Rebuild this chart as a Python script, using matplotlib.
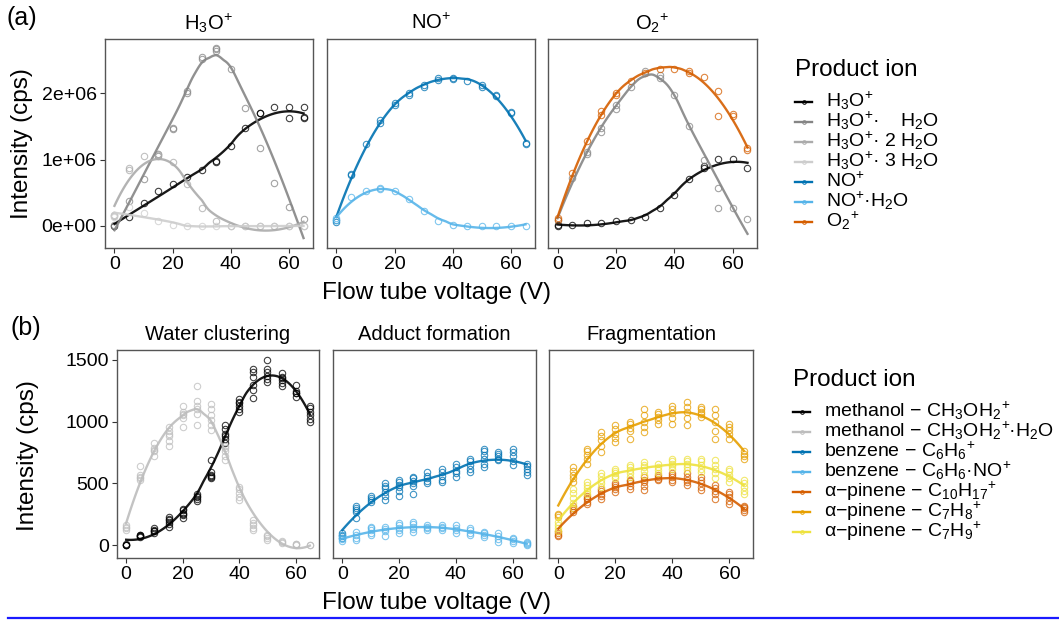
import numpy as np
import matplotlib
matplotlib.use("Agg")
import matplotlib.pyplot as plt
from matplotlib.lines import Line2D

plt.rcParams['font.family'] = ['Liberation Sans', 'DejaVu Sans']
plt.rcParams['mathtext.default'] = 'regular'

# ---------------- data ----------------
volts = [0, 5, 10, 15, 20, 25, 30, 35, 40, 45, 50, 55, 60, 65]

# (a) reagent ions, intensity in units of 1e6 cps, replicates per voltage
h3o_h3o = [[0.0], [0.14], [0.34], [0.52], [0.64], [0.74], [0.85], [0.98, 0.96], [1.20], [1.47],
           [1.70, 1.71], [1.79], [1.79, 1.62], [1.62, 1.64, 1.79]]
h3o_w1 = [[0.01], [0.37], [0.71], [1.09, 1.06], [1.46, 1.48], [2.03, 2.01], [2.55, 2.52],
          [2.68, 2.64, 2.66], [2.37], [1.78], [1.18], [0.65], [0.29], [0.11]]
h3o_w2 = [[0.17, 0.15], [0.85, 0.87], [1.05], [1.07, 1.09], [0.97], [0.64], [0.27], [0.08],
          [0.0], [0.0], [0.0], [0.0], [0.0], [0.0]]
h3o_w3 = [[0.17, 0.14], [0.28], [0.19], [0.08], [0.02], [0.0], [0.0], [0.0], [0.0], [0.0],
          [0.0], [0.0], [0.0], [0.0]]

no_no = [[0.09, 0.06], [0.77, 0.79], [1.23], [1.60, 1.55], [1.85, 1.83], [2.00, 1.98], [2.13, 2.10],
         [2.20, 2.23], [2.23, 2.22], [2.19], [2.13, 2.10], [1.98, 1.96], [1.72, 1.70], [1.25, 1.23]]
no_w1 = [[0.12, 0.09], [0.43], [0.53], [0.57, 0.56], [0.53], [0.41], [0.22], [0.08], [0.01],
         [0.0], [0.0], [0.0], [0.0], [0.0]]

o2_o2 = [[0.12, 0.09], [0.80], [1.28], [1.73, 1.68], [2.00, 1.98], [2.19], [2.31], [2.36], [2.37],
         [2.31, 2.34], [2.24], [2.03, 1.65], [1.69, 1.66], [1.17, 1.14]]
o2_w1 = [[0.09], [0.72], [1.11, 1.08], [1.47, 1.41], [1.82, 1.77], [2.10], [2.33], [2.27, 2.23],
         [1.98], [1.50], [1.00], [0.57, 0.27], [0.27], [0.11]]
o2_h3o = [[0.0, 0.02], [0.02], [0.04], [0.05], [0.07], [0.09], [0.14], [0.27], [0.47], [0.71],
          [0.91, 0.88], [1.01], [1.01], [0.87]]

# (b) product ions, cps
meth = [[0, 3, 5, 2], [65, 75, 80, 85, 70], [100, 115, 125, 135, 110], [150, 170, 190, 210, 230, 200],
        [220, 240, 260, 280, 295, 250], [360, 375, 390, 400, 415], [540, 555, 570, 590, 690, 560],
        [830, 860, 900, 940, 970, 880], [1075, 1100, 1130, 1160, 1180, 1150],
        [1190, 1260, 1300, 1360, 1400, 1425], [1320, 1345, 1370, 1400, 1430, 1500],
        [1290, 1310, 1335, 1360, 1390, 1350], [1200, 1230, 1250, 1300, 1230],
        [1000, 1020, 1050, 1080, 1110, 1130]]
meth_w = [[120, 135, 150, 160], [525, 545, 565, 640, 555], [725, 760, 790, 830, 770],
          [805, 840, 880, 920, 955, 900], [955, 1030, 1060, 1080, 1130, 1050],
          [970, 1060, 1100, 1130, 1170, 1290], [930, 970, 1010, 1050, 1100, 1140],
          [685, 720, 760, 790, 805], [365, 390, 420, 450, 470], [120, 140, 160, 180, 200],
          [40, 55, 70, 80], [15, 25, 30], [0, 5, 8], [0, 2]]
benz = [[55, 70, 85, 95], [215, 265, 285, 300, 320], [350, 365, 380, 400],
        [365, 400, 430, 460, 480, 500], [400, 440, 470, 490, 510, 525], [415, 480, 500, 520, 540, 550],
        [500, 520, 540, 560, 590], [510, 530, 560, 590, 620], [550, 580, 600, 630, 660],
        [590, 620, 650, 680, 700], [630, 660, 700, 730, 760, 775], [685, 700, 720, 740, 750],
        [645, 680, 720, 750, 775], [565, 590, 620, 640, 660]]
benz_no = [[30, 45, 60, 80], [40, 60, 80, 105], [80, 100, 120, 140, 150], [70, 110, 130, 150],
           [95, 120, 140, 160, 175], [105, 130, 150, 170, 190], [120, 135, 150, 160],
           [120, 135, 150, 160], [95, 120, 140, 160], [80, 100, 120, 140], [65, 80, 95, 105],
           [25, 50, 70, 95], [15, 30, 45, 55], [0, 10, 20, 25]]
pin_c10 = [[70, 85, 100, 110], [270, 285, 300, 320], [335, 350, 370, 385, 400],
           [375, 395, 415, 435, 455], [430, 450, 470, 485, 500], [455, 475, 500, 515, 525],
           [445, 480, 510, 530, 550], [525, 535, 550, 565], [510, 530, 550, 565, 580],
           [485, 510, 530, 555, 580], [445, 470, 500, 525, 550], [375, 410, 440, 465, 485],
           [335, 360, 390, 410, 430], [270, 285, 300, 310, 320]]
pin_c7h8 = [[230, 240, 250], [510, 540, 570, 600, 630], [660, 700, 730, 760, 780],
            [750, 800, 850, 880, 915], [835, 870, 900, 940, 970], [860, 920, 950, 980, 995],
            [915, 960, 1000, 1050, 1100], [980, 1010, 1040, 1060, 1075], [980, 1030, 1070, 1100, 1130],
            [970, 1030, 1080, 1120, 1155], [1035, 1060, 1080, 1100, 1115], [860, 920, 1000, 1050, 1100],
            [860, 900, 930, 960, 980], [700, 720, 740, 760]]
pin_c7h9 = [[110, 140, 165, 190], [300, 340, 380, 420, 455], [415, 440, 465, 490, 510],
            [470, 500, 530, 560, 580], [540, 560, 580, 600, 620], [550, 580, 610, 630, 645],
            [565, 600, 630, 650, 670], [580, 610, 630, 660], [620, 640, 660, 680, 700],
            [605, 630, 660, 680, 700], [590, 620, 650, 680, 700], [540, 580, 620, 650, 685],
            [510, 540, 570, 600, 620], [415, 440, 470, 500, 525]]

# colours
c_h3o, c_w1, c_w2, c_w3 = '#000000', '#858585', '#ababab', '#cdcdcd'
c_no, c_now = '#0072B2', '#56B4E9'
c_o2 = '#D55E00'
c_mw = '#bdbdbd'
c_c10, c_c7h8, c_c7h9 = '#D55E00', '#E69F00', '#EEE23E'

# (title, series, loess span)
panels_a = [
    (r'$H_3O^{\!+}$', [(h3o_h3o, c_h3o), (h3o_w1, c_w1), (h3o_w2, c_w2), (h3o_w3, c_w3)], 0.85),
    (r'$NO^{\!+}$', [(no_no, c_no), (no_w1, c_now)], 0.75),
    (r'${O_2}^{\!+}$', [(o2_h3o, c_h3o), (o2_w1, c_w1), (o2_o2, c_o2)], 0.75),
]
panels_b = [
    ('Water clustering', [(meth, '#000000'), (meth_w, c_mw)], 0.75),
    ('Adduct formation', [(benz, c_no), (benz_no, c_now)], 0.75),
    ('Fragmentation', [(pin_c10, c_c10), (pin_c7h8, c_c7h8), (pin_c7h9, c_c7h9)], 0.75),
]

legend_a = [(r'$H_3O^{\!+}$', c_h3o), (r'$H_3O^{\!+}\!·$    $H_2O$', c_w1),
            (r'$H_3O^{\!+}\!·$ 2 $H_2O$', c_w2), (r'$H_3O^{\!+}\!·$ 3 $H_2O$', c_w3),
            (r'$NO^{\!+}$', c_no), (r'$NO^{\!+}\!·H_2O$', c_now), (r'${O_2}^{\!+}$', c_o2)]
legend_b = [(r'methanol − $CH_3{OH_2}^{\!+}$', '#000000'),
            (r'methanol − $CH_3{OH_2}^{\!+}\!·H_2O$', c_mw),
            (r'benzene − $C_6{H_6}^{\!+}$', c_no),
            (r'benzene − $C_6H_6·NO^{\!+}$', c_now),
            (r'α−pinene − $C_{10}{H_{17}}^{\!+}$', c_c10),
            (r'α−pinene − $C_7{H_8}^{\!+}$', c_c7h8),
            (r'α−pinene − $C_7{H_9}^{\!+}$', c_c7h9)]


def loess(x, y, xs, span=0.75):
    x = np.asarray(x, float)
    y = np.asarray(y, float)
    n = len(x)
    q = min(int(np.floor(span * n)), n)
    out = []
    for x0 in xs:
        d = np.abs(x - x0)
        h = np.sort(d)[q - 1]
        w = np.clip(1 - (d / h) ** 3, 0, None) ** 3
        A = np.vstack([np.ones(n), x - x0, (x - x0) ** 2]).T
        sw = np.sqrt(w)
        coef = np.linalg.lstsq(A * sw[:, None], y * sw, rcond=None)[0]
        out.append(coef[0])
    return np.array(out)


W, H = 1059, 623
fig = plt.figure(figsize=(W / 100, H / 100), dpi=100)


def add_ax(l, t, r, b):
    return fig.add_axes([l / W, 1 - b / H, (r - l) / W, (b - t) / H])


def fx(x):
    return x / W


def fy(y):
    return 1 - y / H


def draw_panel(ax, title, series, span, ylim):
    grid = np.linspace(0, 65, 120)
    for vals, col in series:
        xs = np.concatenate([[v] * len(r) for v, r in zip(volts, vals)])
        ys = np.concatenate(vals)
        ax.plot(xs, ys, 'o', mfc='none', mec=col, ms=4.6, mew=0.8, alpha=0.75, zorder=2)
    for vals, col in series:
        xs = np.concatenate([[v] * len(r) for v, r in zip(volts, vals)])
        ys = np.concatenate(vals)
        ax.plot(grid, loess(xs, ys, grid, span), color=col, lw=1.7, alpha=0.9, zorder=3)
    ax.set_xlim(-3.25, 68.25)
    ax.set_ylim(*ylim)
    ax.set_xticks([0, 20, 40, 60])
    ax.tick_params(direction='out', length=3.5, width=0.8, color='#333333',
                   labelsize=14, pad=2.5)
    for s in ax.spines.values():
        s.set_color('#555555')
        s.set_linewidth(1.0)
    ax.set_title(title, fontsize=14.5, pad=7)


top_boxes = [(105, 39, 313, 248), (327, 39, 535, 248), (548, 39, 757, 248)]
bot_boxes = [(117, 350, 319, 558), (333, 350, 536, 558), (549, 350, 753, 558)]

for i, ((title, series, span), box) in enumerate(zip(panels_a, top_boxes)):
    ax = add_ax(*box)
    draw_panel(ax, title, series, span, (-0.332, 2.818))
    if i == 0:
        ax.set_yticks([0, 1, 2])
        ax.set_yticklabels([f"{v * 1e6:.0e}" for v in [0, 1, 2]])
    else:
        ax.set_yticks([])

for i, ((title, series, span), box) in enumerate(zip(panels_b, bot_boxes)):
    ax = add_ax(*box)
    draw_panel(ax, title, series, span, (-105, 1580))
    if i == 0:
        ax.set_yticks([0, 500, 1000, 1500])
    else:
        ax.set_yticks([])

# axis titles and tags
fig.text(fx(22), fy(144), 'Intensity (cps)', rotation=90, ha='center', va='center', fontsize=17.5)
fig.text(fx(28), fy(456), 'Intensity (cps)', rotation=90, ha='center', va='center', fontsize=17.5)
fig.text(fx(436), fy(293), 'Flow tube voltage (V)', ha='center', va='center', fontsize=17.5)
fig.text(fx(436), fy(603), 'Flow tube voltage (V)', ha='center', va='center', fontsize=17.5)
fig.text(fx(6), fy(18), '(a)', ha='left', va='center', fontsize=18)
fig.text(fx(11), fy(328), '(b)', ha='left', va='center', fontsize=18)


def draw_legend(x0, ytitle, y1, items):
    fig.text(fx(x0), fy(ytitle), 'Product ion', ha='left', va='center', fontsize=17.5)
    for k, (lab, col) in enumerate(items):
        y = y1 + 20 * k
        fig.add_artist(Line2D([fx(x0), fx(x0 + 17)], [fy(y), fy(y)], color=col, lw=1.7,
                              transform=fig.transFigure))
        fig.add_artist(Line2D([fx(x0 + 8.5)], [fy(y)], marker='o', ms=2.6, mfc='none', mec=col,
                              mew=0.7, transform=fig.transFigure))
        fig.text(fx(x0 + 31), fy(y + 5.5), lab, ha='left', va='baseline', fontsize=14)


draw_legend(795, 70, 101.5, legend_a)
draw_legend(793, 380, 411.5, legend_b)

# blue rule at the bottom
fig.add_artist(Line2D([fx(8), fx(1059)], [fy(618), fy(618)], color='#1a1aff', lw=1.6,
                      transform=fig.transFigure))

fig.savefig('out.png', dpi=100)
